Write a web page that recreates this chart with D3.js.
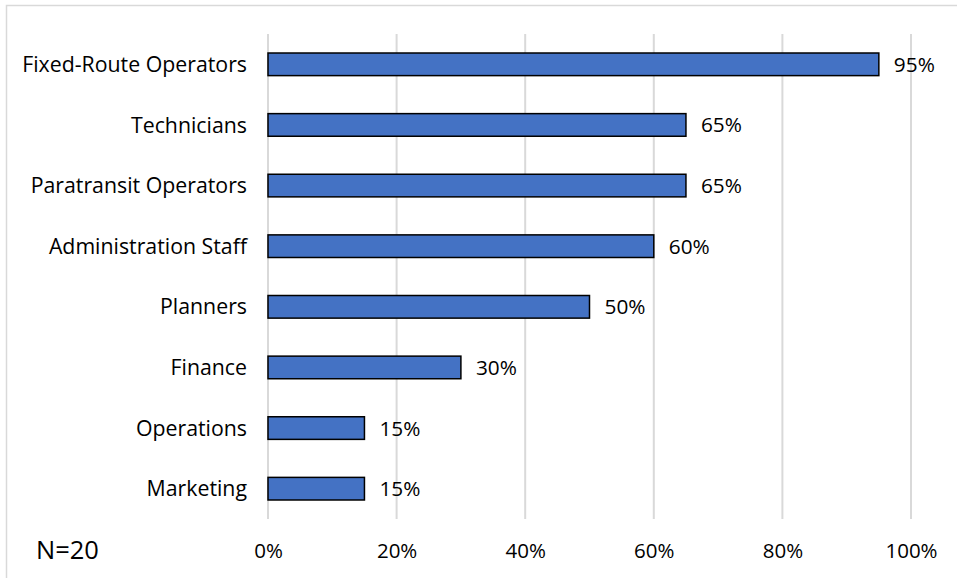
<!DOCTYPE html>
<html>
<head>
<meta charset="utf-8">
<script src="https://cdn.jsdelivr.net/npm/d3@7"></script>
<style>
  html, body { margin: 0; padding: 0; background: #fff; }
  svg { display: block; }
  text { font-family: "Open Sans", sans-serif; fill: #000; }
</style>
</head>
<body>
<svg id="chart" width="957" height="578"></svg>
<script>
// Staff groups and the share of agencies reporting each
const categories = [
  "Fixed-Route Operators",
  "Technicians",
  "Paratransit Operators",
  "Administration Staff",
  "Planners",
  "Finance",
  "Operations",
  "Marketing"
];
const values = [95, 65, 65, 60, 50, 30, 15, 15];
const tickValues = [0, 20, 40, 60, 80, 100];
const sampleNote = "N=20";

const width = 957, height = 578;
const margin = { top: 34, right: 46, bottom: 59, left: 268 };
const innerW = width - margin.left - margin.right;
const innerH = height - margin.top - margin.bottom;

const svg = d3.select("#chart");

// Chart frame
svg.append("rect")
  .attr("x", 6.5).attr("y", 5.5)
  .attr("width", width + 10).attr("height", height + 10)
  .attr("fill", "none")
  .attr("stroke", "#d9d9d9")
  .attr("stroke-width", 1.5);

const g = svg.append("g").attr("transform", `translate(${margin.left},${margin.top})`);

const x = d3.scaleLinear().domain([0, 100]).range([0, innerW]);
const y = d3.scaleBand().domain(categories).range([0, innerH]).paddingInner(0.627).paddingOuter(0.3135);

// Vertical gridlines
g.append("g")
  .selectAll("line")
  .data(tickValues)
  .join("line")
  .attr("x1", d => x(d)).attr("x2", d => x(d))
  .attr("y1", 0).attr("y2", innerH)
  .attr("stroke", "#d9d9d9")
  .attr("stroke-width", 2);

// Bars
g.append("g")
  .selectAll("rect")
  .data(values)
  .join("rect")
  .attr("x", x(0))
  .attr("y", (d, i) => y(categories[i]))
  .attr("width", d => x(d) - x(0))
  .attr("height", y.bandwidth())
  .attr("fill", "#4472C4")
  .attr("stroke", "#000")
  .attr("stroke-width", 1.5);

// Value labels
g.append("g")
  .selectAll("text")
  .data(values)
  .join("text")
  .attr("x", d => x(d) + 15)
  .attr("y", (d, i) => y(categories[i]) + y.bandwidth() / 2)
  .attr("dy", "0.36em")
  .attr("font-size", 20.8)
  .text(d => d + "%");

// Category axis labels
g.append("g")
  .selectAll("text")
  .data(categories)
  .join("text")
  .attr("x", -21)
  .attr("y", d => y(d) + y.bandwidth() / 2)
  .attr("dy", "0.36em")
  .attr("text-anchor", "end")
  .attr("font-size", 21.3)
  .text(d => d);

// Percentage axis
const xAxis = d3.axisBottom(x)
  .tickValues(tickValues)
  .tickFormat(d => d + "%")
  .tickSize(0)
  .tickPadding(0);

const axisG = g.append("g")
  .attr("transform", `translate(0,${innerH})`)
  .call(xAxis);
axisG.select(".domain").remove();
axisG.selectAll("text")
  .attr("y", 38.5)
  .attr("dy", 0)
  .attr("font-size", 20.5)
  .attr("font-family", "Open Sans, sans-serif")
  .attr("fill", "#000");

// Sample size note
svg.append("text")
  .attr("x", 36)
  .attr("y", 559)
  .attr("font-size", 25.5)
  .text(sampleNote);
</script>
</body>
</html>
